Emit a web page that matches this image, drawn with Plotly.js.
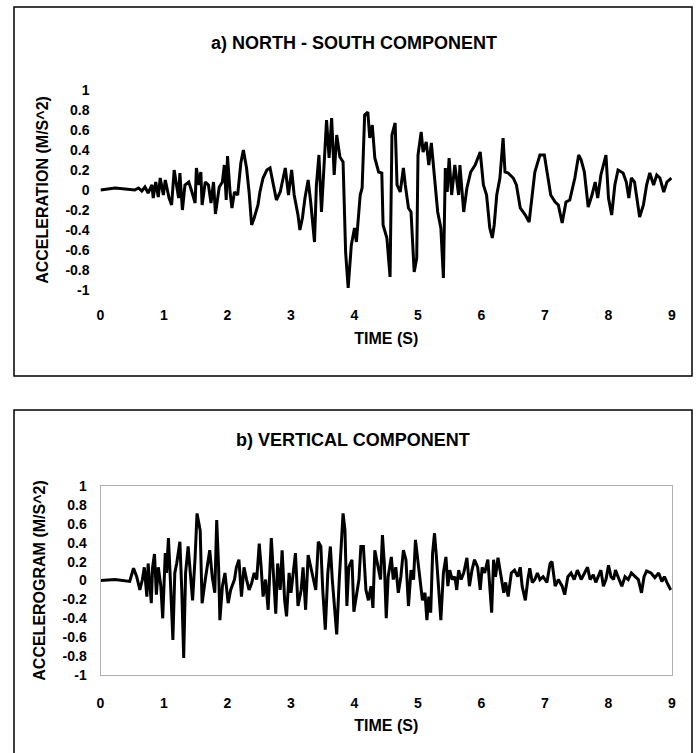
<!DOCTYPE html>
<html>
<head>
<meta charset="utf-8">
<script src="https://cdn.plot.ly/plotly-3.0.1.min.js"></script>
<style>html,body{margin:0;padding:0;background:#fff;}#chart{width:699px;height:753px;}</style>
</head>
<body>
<div id="chart"></div>
<script>
// ---- Data ----
const nsTime = [
  0, 0.23, 0.54, 0.60, 0.65, 0.70, 0.75, 0.81, 0.83, 0.87,
  0.91, 0.94, 0.99, 1.02, 1.08, 1.12, 1.16, 1.23, 1.25, 1.29,
  1.33, 1.39, 1.44, 1.49, 1.51, 1.55, 1.58, 1.60, 1.65, 1.70,
  1.74, 1.78, 1.81, 1.87, 1.92, 1.95, 1.98, 2.00, 2.04, 2.07,
  2.11, 2.16, 2.21, 2.25, 2.30, 2.34, 2.38, 2.42, 2.48, 2.51,
  2.56, 2.62, 2.67, 2.71, 2.77, 2.83, 2.91, 2.96, 3.01, 3.05,
  3.11, 3.14, 3.18, 3.22, 3.27, 3.31, 3.37, 3.40, 3.44, 3.48,
  3.52, 3.56, 3.60, 3.64, 3.68, 3.72, 3.77, 3.82, 3.86, 3.90,
  3.95, 4.00, 4.03, 4.09, 4.12, 4.16, 4.21, 4.24, 4.28, 4.32,
  4.38, 4.43, 4.45, 4.51, 4.56, 4.59, 4.64, 4.67, 4.72, 4.77,
  4.80, 4.85, 4.89, 4.94, 4.98, 5.00, 5.05, 5.08, 5.13, 5.17,
  5.21, 5.26, 5.31, 5.36, 5.40, 5.43, 5.46, 5.49, 5.53, 5.58,
  5.64, 5.66, 5.72, 5.77, 5.83, 5.90, 5.98, 6.03, 6.08, 6.13,
  6.17, 6.20, 6.24, 6.29, 6.34, 6.37, 6.42, 6.50, 6.55, 6.61,
  6.69, 6.75, 6.79, 6.84, 6.92, 6.99, 7.04, 7.09, 7.16, 7.21,
  7.27, 7.33, 7.39, 7.47, 7.53, 7.57, 7.62, 7.68, 7.74, 7.79,
  7.83, 7.88, 7.92, 7.96, 8.00, 8.05, 8.10, 8.15, 8.23, 8.28,
  8.32, 8.36, 8.41, 8.49, 8.55, 8.60, 8.65, 8.71, 8.76, 8.81,
  8.87, 8.92, 8.99
];
const nsAccel = [
  0, 0.02, 0, 0.02, -0.01, 0.03, -0.03, 0.05, -0.08, 0.08,
  -0.07, 0.12, -0.05, 0.10, -0.08, -0.15, 0.20, -0.08, 0.17, -0.20,
  0.05, 0.08, -0.02, -0.13, 0.22, 0.05, 0.18, -0.15, 0.08, 0.05,
  -0.13, 0.08, -0.24, 0.03, 0.08, 0.25, -0.10, 0.34, -0.02, -0.18,
  -0.02, -0.05, 0.27, 0.40, 0.22, -0.02, -0.35, -0.28, -0.15, -0.02,
  0.12, 0.20, 0.22, 0.08, -0.10, -0.02, 0.22, -0.05, 0.20, -0.05,
  -0.25, -0.40, -0.28, -0.08, 0.10, -0.12, -0.52, 0.05, 0.35, -0.22,
  0.25, 0.70, 0.32, 0.72, 0.15, 0.55, 0.33, 0.28, -0.62, -0.98,
  -0.55, -0.38, -0.52, -0.05, 0.02, 0.75, 0.78, 0.52, 0.65, 0.32,
  0.18, 0.17, -0.35, -0.48, -0.87, 0.55, 0.67, 0.05, -0.02, 0.22,
  0.05, -0.18, -0.22, -0.82, -0.68, 0.35, 0.58, 0.38, 0.48, 0.25,
  0.47, 0.08, -0.22, -0.38, -0.88, 0.22, -0.02, 0.32, -0.05, 0.25,
  -0.05, 0.25, -0.22, 0.02, 0.18, 0.25, 0.38, 0.05, -0.05, -0.38,
  -0.48, -0.35, -0.05, 0.12, 0.52, 0.18, 0.17, 0.12, 0.05, -0.18,
  -0.25, -0.32, -0.08, 0.18, 0.35, 0.35, 0.15, -0.05, -0.12, -0.15,
  -0.33, -0.12, -0.10, 0.12, 0.35, 0.30, 0.18, -0.17, -0.05, 0.08,
  -0.08, 0.15, 0.25, 0.35, -0.08, -0.25, 0.05, 0.20, 0.17, 0.08,
  -0.08, 0.12, 0.08, -0.27, -0.15, 0.05, 0.17, 0.05, 0.15, 0.12,
  -0.02, 0.08, 0.12
];

const vTime = [
  0, 0.23, 0.46, 0.52, 0.57, 0.62, 0.66, 0.69, 0.73, 0.75,
  0.80, 0.82, 0.85, 0.88, 0.91, 0.95, 0.98, 1.02, 1.04, 1.07,
  1.10, 1.14, 1.17, 1.20, 1.25, 1.28, 1.31, 1.34, 1.38, 1.42,
  1.45, 1.49, 1.52, 1.57, 1.60, 1.65, 1.69, 1.72, 1.76, 1.80,
  1.83, 1.86, 1.88, 1.92, 1.96, 2.01, 2.05, 2.11, 2.14, 2.18,
  2.22, 2.26, 2.30, 2.34, 2.38, 2.42, 2.46, 2.50, 2.53, 2.56,
  2.60, 2.64, 2.69, 2.72, 2.76, 2.79, 2.83, 2.86, 2.90, 2.93,
  2.97, 3.00, 3.07, 3.11, 3.16, 3.19, 3.23, 3.27, 3.31, 3.35,
  3.39, 3.43, 3.47, 3.50, 3.54, 3.58, 3.62, 3.65, 3.68, 3.72,
  3.76, 3.79, 3.82, 3.85, 3.88, 3.91, 3.96, 3.99, 4.03, 4.07,
  4.10, 4.14, 4.18, 4.22, 4.26, 4.29, 4.32, 4.36, 4.41, 4.44,
  4.47, 4.50, 4.53, 4.58, 4.61, 4.65, 4.69, 4.73, 4.77, 4.81,
  4.85, 4.89, 4.93, 4.96, 5.00, 5.03, 5.07, 5.11, 5.14, 5.17,
  5.20, 5.23, 5.26, 5.29, 5.33, 5.36, 5.40, 5.44, 5.47, 5.50,
  5.54, 5.58, 5.61, 5.64, 5.68, 5.72, 5.77, 5.81, 5.85, 5.89,
  5.94, 5.98, 6.01, 6.05, 6.10, 6.13, 6.16, 6.19, 6.22, 6.26,
  6.31, 6.35, 6.38, 6.42, 6.47, 6.52, 6.57, 6.61, 6.64, 6.69,
  6.73, 6.76, 6.80, 6.84, 6.88, 6.92, 6.97, 7.03, 7.08, 7.11,
  7.16, 7.21, 7.27, 7.31, 7.36, 7.41, 7.46, 7.51, 7.57, 7.62,
  7.67, 7.71, 7.76, 7.80, 7.84, 7.88, 7.92, 7.96, 8.00, 8.04,
  8.08, 8.11, 8.15, 8.21, 8.26, 8.31, 8.36, 8.42, 8.47, 8.52,
  8.56, 8.60, 8.67, 8.73, 8.79, 8.84, 8.88, 8.92, 8.95, 8.98
];
const vAccel = [
  0, 0.01, -0.01, 0.13, 0.04, -0.10, 0.01, 0.14, -0.17, 0.18,
  -0.24, 0.14, 0.28, -0.15, 0.14, -0.06, -0.40, 0.29, 0.08, 0.45,
  0.01, -0.63, 0.08, 0.18, 0.41, -0.10, -0.82, 0.08, 0.36, 0.04,
  -0.21, 0.25, 0.71, 0.53, -0.24, 0.01, 0.18, 0.32, 0.04, -0.13,
  0.64, 0.14, -0.42, -0.06, 0.08, -0.24, -0.10, 0.01, 0.14, 0.22,
  -0.17, 0.14, 0.01, -0.10, -0.03, 0.08, 0.01, 0.39, 0.14, -0.17,
  0.01, -0.31, 0.45, 0.08, -0.35, 0.18, -0.10, 0.32, -0.21, -0.38,
  0.08, -0.13, 0.29, -0.27, -0.10, 0.14, -0.31, 0.27, 0.14, 0.01,
  -0.10, 0.41, 0.36, -0.10, -0.52, 0.08, 0.36, 0.01, -0.21, -0.57,
  0.01, 0.36, 0.71, 0.53, -0.27, 0.14, 0.22, -0.33, -0.17, 0.01,
  0.36, 0.36, -0.10, -0.21, -0.06, -0.29, 0.32, 0.18, 0.01, 0.48,
  0.18, -0.40, 0.04, 0.25, 0.01, 0.14, -0.13, 0.04, 0.32, 0.22,
  -0.27, 0.11, 0.01, 0.43, 0.18, 0.01, -0.21, -0.13, -0.42, -0.17,
  -0.34, 0.29, 0.50, 0.25, -0.10, -0.42, 0.08, 0.25, -0.06, 0.11,
  0.01, 0.04, -0.10, 0.11, 0.01, 0.08, 0.24, -0.06, 0.11, 0.22,
  0.14, -0.10, 0.14, 0.08, 0.22, -0.06, -0.34, 0.22, 0.04, 0.24,
  0.01, -0.13, -0.02, -0.17, 0.08, 0.11, 0.04, 0.14, -0.06, -0.21,
  0.01, 0.13, -0.02, 0.01, 0.08, 0.01, 0.04, -0.02, 0.18, 0.20,
  -0.06, 0.01, -0.06, -0.15, 0.04, 0.08, 0.01, 0.11, 0.01, 0.08,
  0.14, 0.01, 0.06, -0.02, 0.04, 0.11, -0.06, 0.01, 0.16, 0.04,
  0.01, 0.11, 0.04, -0.06, 0.04, 0.01, 0.08, 0.04, 0.01, -0.13,
  0.04, 0.10, 0.08, 0.03, 0.08, -0.01, 0.04, -0.02, -0.06, -0.10
];

const xTickVals = [0, 1, 2, 3, 4, 5, 6, 7, 8, 9];
const xTickText = ['0', '1', '2', '3', '4', '5', '6', '7', '8', '9'];
const yTickVals = [1, 0.8, 0.6, 0.4, 0.2, 0, -0.2, -0.4, -0.6, -0.8, -1];
const yTickText = ['1', '0.8', '0.6', '0.4', '0.2', '0', '-0.2', '-0.4', '-0.6', '-0.8', '-1'];

const titleA = 'a) NORTH - SOUTH COMPONENT';
const titleB = 'b) VERTICAL COMPONENT';
const yTitleA = 'ACCELERATION (M/S^2)';
const yTitleB = 'ACCELEROGRAM (M/S^2)';
const xTitle = 'TIME (S)';

// ---- Layout helpers ----
const W = 699, H = 753;
const fx = p => p / W;
const fy = p => 1 - p / H;
const FAM = 'Arial, "Liberation Sans", sans-serif';
const tickFont = {family: FAM, size: 14, color: '#000', weight: 'bold'};
const axTitleFont = {family: FAM, size: 16, color: '#000', weight: 'bold'};
const headFont = {family: FAM, size: 18, color: '#000', weight: 'bold'};

function xAxis(anchor, frame) {
  return {
    anchor: anchor, domain: [fx(100.5), fx(672)], range: [0, 9],
    tickmode: 'array', tickvals: xTickVals, ticktext: xTickText,
    tickfont: tickFont, ticks: '', ticklabelstandoff: 15,
    showgrid: false, zeroline: false,
    showline: frame, mirror: frame, linecolor: '#b0b0b0', linewidth: 1,
    title: {text: xTitle, font: axTitleFont, standoff: 10}
  };
}
function yAxis(anchor, top, bottom, title, frame) {
  return {
    anchor: anchor, domain: [fy(bottom), fy(top)], range: [-1, 1],
    tickmode: 'array', tickvals: yTickVals, ticktext: yTickText,
    tickfont: tickFont, ticks: '', ticklabelstandoff: 10,
    showgrid: false, zeroline: false,
    showline: frame, mirror: frame, linecolor: '#b0b0b0', linewidth: 1,
    title: {text: title, font: axTitleFont, standoff: 12}
  };
}

const traces = [
  {x: nsTime, y: nsAccel, xaxis: 'x', yaxis: 'y', type: 'scatter', mode: 'lines',
   line: {color: '#000', width: 3}, hoverinfo: 'skip'},
  {x: vTime, y: vAccel, xaxis: 'x2', yaxis: 'y2', type: 'scatter', mode: 'lines',
   line: {color: '#000', width: 3}, hoverinfo: 'skip'}
];

const layout = {
  width: W, height: H,
  margin: {l: 0, r: 0, t: 0, b: 0},
  paper_bgcolor: '#fff', plot_bgcolor: 'rgba(0,0,0,0)',
  showlegend: false,
  title: {text: titleA, font: headFont, x: fx(354), xanchor: 'center', xref: 'paper',
          y: fy(43), yanchor: 'middle', yref: 'paper'},
  xaxis: xAxis('y', false),
  yaxis: yAxis('x', 90, 290, yTitleA, false),
  xaxis2: xAxis('y2', true),
  yaxis2: yAxis('x2', 486, 675, yTitleB, true),
  annotations: [
    {text: titleB, font: headFont, xref: 'paper', yref: 'paper', x: fx(353), y: fy(440),
     xanchor: 'center', yanchor: 'middle', showarrow: false}
  ],
  shapes: [
    {type: 'rect', xref: 'paper', yref: 'paper', x0: fx(14), x1: fx(692), y0: fy(376), y1: fy(7),
     line: {color: '#000', width: 1.5}},
    {type: 'rect', xref: 'paper', yref: 'paper', x0: fx(14), x1: fx(692), y0: fy(775), y1: fy(410),
     line: {color: '#000', width: 1.5}}
  ]
};

Plotly.newPlot('chart', traces, layout, {staticPlot: true, displayModeBar: false});
</script>
</body>
</html>
